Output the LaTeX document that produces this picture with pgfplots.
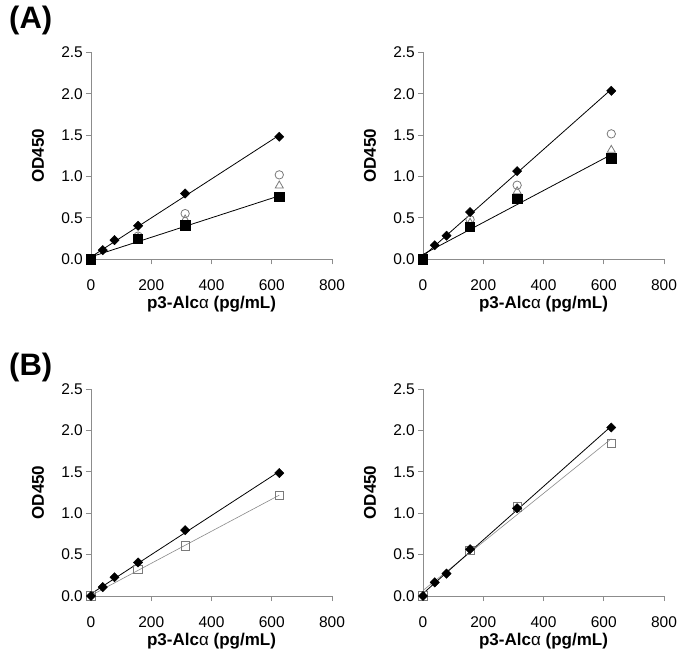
\documentclass[border=0pt]{standalone}
\usepackage{pgfplots}
\usepackage{pgfplotstable}
\pgfplotsset{compat=1.18}
\usepackage{fontspec}
\setmainfont{Liberation Sans}

\definecolor{axisgray}{HTML}{8C8C8C}
\definecolor{markgray}{HTML}{7A7A7A}
\definecolor{linegray}{HTML}{8A8A8A}

% ---- Panel A left
\pgfplotstableread{
x y
0 0
39 0.110
78 0.232
156.25 0.405
312.5 0.795
625 1.480
}\TLd
\pgfplotstableread{
x y
0 0
156.25 0.244
312.5 0.412
625 0.752
}\TLs
\pgfplotstableread{
x y
156.25 0.280
312.5 0.552
625 1.020
}\TLc
\pgfplotstableread{
x y
156.25 0.260
312.5 0.480
625 0.890
}\TLt
% ---- Panel A right
\pgfplotstableread{
x y
0 0
39 0.170
78 0.285
156.25 0.570
312.5 1.065
625 2.035
}\TRd
\pgfplotstableread{
x y
0 0
156.25 0.390
312.5 0.735
625 1.220
}\TRs
\pgfplotstableread{
x y
156.25 0.480
312.5 0.895
625 1.515
}\TRc
\pgfplotstableread{
x y
156.25 0.440
312.5 0.820
625 1.320
}\TRt
% ---- Panel B left
\pgfplotstableread{
x y
0 0
39 0.107
78 0.227
156.25 0.405
312.5 0.795
625 1.485
}\BLd
\pgfplotstableread{
x y
0 0
156.25 0.324
312.5 0.605
625 1.218
}\BLs
% ---- Panel B right
\pgfplotstableread{
x y
0 0
39 0.165
78 0.270
156.25 0.565
312.5 1.060
625 2.035
}\BRd
\pgfplotstableread{
x y
0 0
156.25 0.550
312.5 1.078
625 1.845
}\BRs

\pgfplotsset{
  odstyle/.style={
    scale only axis, width=241pt, height=207pt,
    xmin=0, xmax=800, ymin=0, ymax=2.5,
    axis x line*=bottom, axis y line*=left,
    axis line style={draw=axisgray, line width=0.8pt},
    xtick={0,200,400,600,800}, ytick={0,0.5,1,1.5,2,2.5},
    tick align=outside, major tick length=5pt,
    tick style={draw=axisgray, line width=0.8pt},
    /pgf/number format/assume math mode=true,
    ticklabel style={font=\fontsize{15.5}{18}\selectfont},
    yticklabel style={/pgf/number format/fixed, /pgf/number format/fixed zerofill, /pgf/number format/precision=1, anchor=east, inner sep=0pt, xshift=-3pt},
    xticklabel style={anchor=base, inner sep=0pt, yshift=-26pt},
    label style={font=\bfseries\fontsize{17}{20}\selectfont},
    xlabel={p3-Alc\textmd{α} (pg/mL)},
    ylabel={OD450},
    xlabel style={at={(axis description cs:0.5,-0.238)}, anchor=base},
    ylabel style={at={(axis description cs:-0.22,0.5)}, anchor=center, rotate=0},
    clip=false,
  },
  trend/.style={black, line width=0.8pt, no marks},
  trendg/.style={linegray, line width=0.6pt, no marks},
  diam/.style={only marks, mark=square*, mark size=3.3pt, black, mark options={rotate=45, fill=black, draw=black}},
  fsq/.style={only marks, mark=square*, mark size=4.6pt, black, mark options={fill=black}},
  ocirc/.style={only marks, mark=o, mark size=4.2pt, markgray, mark options={line width=0.8pt}},
  otri/.style={only marks, mark=triangle, mark size=4.6pt, markgray, mark options={line width=0.8pt}},
  osq/.style={only marks, mark=square, mark size=4.2pt, markgray, mark options={line width=0.8pt}},
}

\begin{document}
\begin{tikzpicture}[x=1pt,y=1pt]
\useasboundingbox (0,0) rectangle (685,654);

\node[font=\bfseries\fontsize{31}{34}\selectfont, anchor=west, inner sep=0pt] at (9,634) {(A)};
\node[font=\bfseries\fontsize{31}{34}\selectfont, anchor=west, inner sep=0pt] at (9,287) {(B)};

% Top left
\begin{axis}[odstyle, at={(91pt,394.7pt)}, anchor=south west]
\addplot[trend] table[x=x, y={create col/linear regression={y=y}}] {\TLd};
\addplot[trend] table[x=x, y={create col/linear regression={y=y}}] {\TLs};
\addplot[ocirc] table[x=x,y=y] {\TLc};
\addplot[otri] table[x=x,y=y] {\TLt};
\addplot[fsq] table[x=x,y=y] {\TLs};
\addplot[diam] table[x=x,y=y] {\TLd};
\end{axis}

% Top right
\begin{axis}[odstyle, at={(423pt,394.7pt)}, anchor=south west]
\addplot[trend] table[x=x, y={create col/linear regression={y=y}}] {\TRd};
\addplot[trend] table[x=x, y={create col/linear regression={y=y}}] {\TRs};
\addplot[ocirc] table[x=x,y=y] {\TRc};
\addplot[otri] table[x=x,y=y] {\TRt};
\addplot[fsq] table[x=x,y=y] {\TRs};
\addplot[diam] table[x=x,y=y] {\TRd};
\end{axis}

% Bottom left
\begin{axis}[odstyle, at={(91pt,58pt)}, anchor=south west]
\addplot[trendg] table[x=x, y={create col/linear regression={y=y}}] {\BLs};
\addplot[trend] table[x=x, y={create col/linear regression={y=y}}] {\BLd};
\addplot[osq] table[x=x,y=y] {\BLs};
\addplot[diam] table[x=x,y=y] {\BLd};
\end{axis}

% Bottom right
\begin{axis}[odstyle, at={(423pt,58pt)}, anchor=south west]
\addplot[trendg] table[x=x, y={create col/linear regression={y=y}}] {\BRs};
\addplot[trend] table[x=x, y={create col/linear regression={y=y}}] {\BRd};
\addplot[osq] table[x=x,y=y] {\BRs};
\addplot[diam] table[x=x,y=y] {\BRd};
\end{axis}
\end{tikzpicture}
\end{document}
